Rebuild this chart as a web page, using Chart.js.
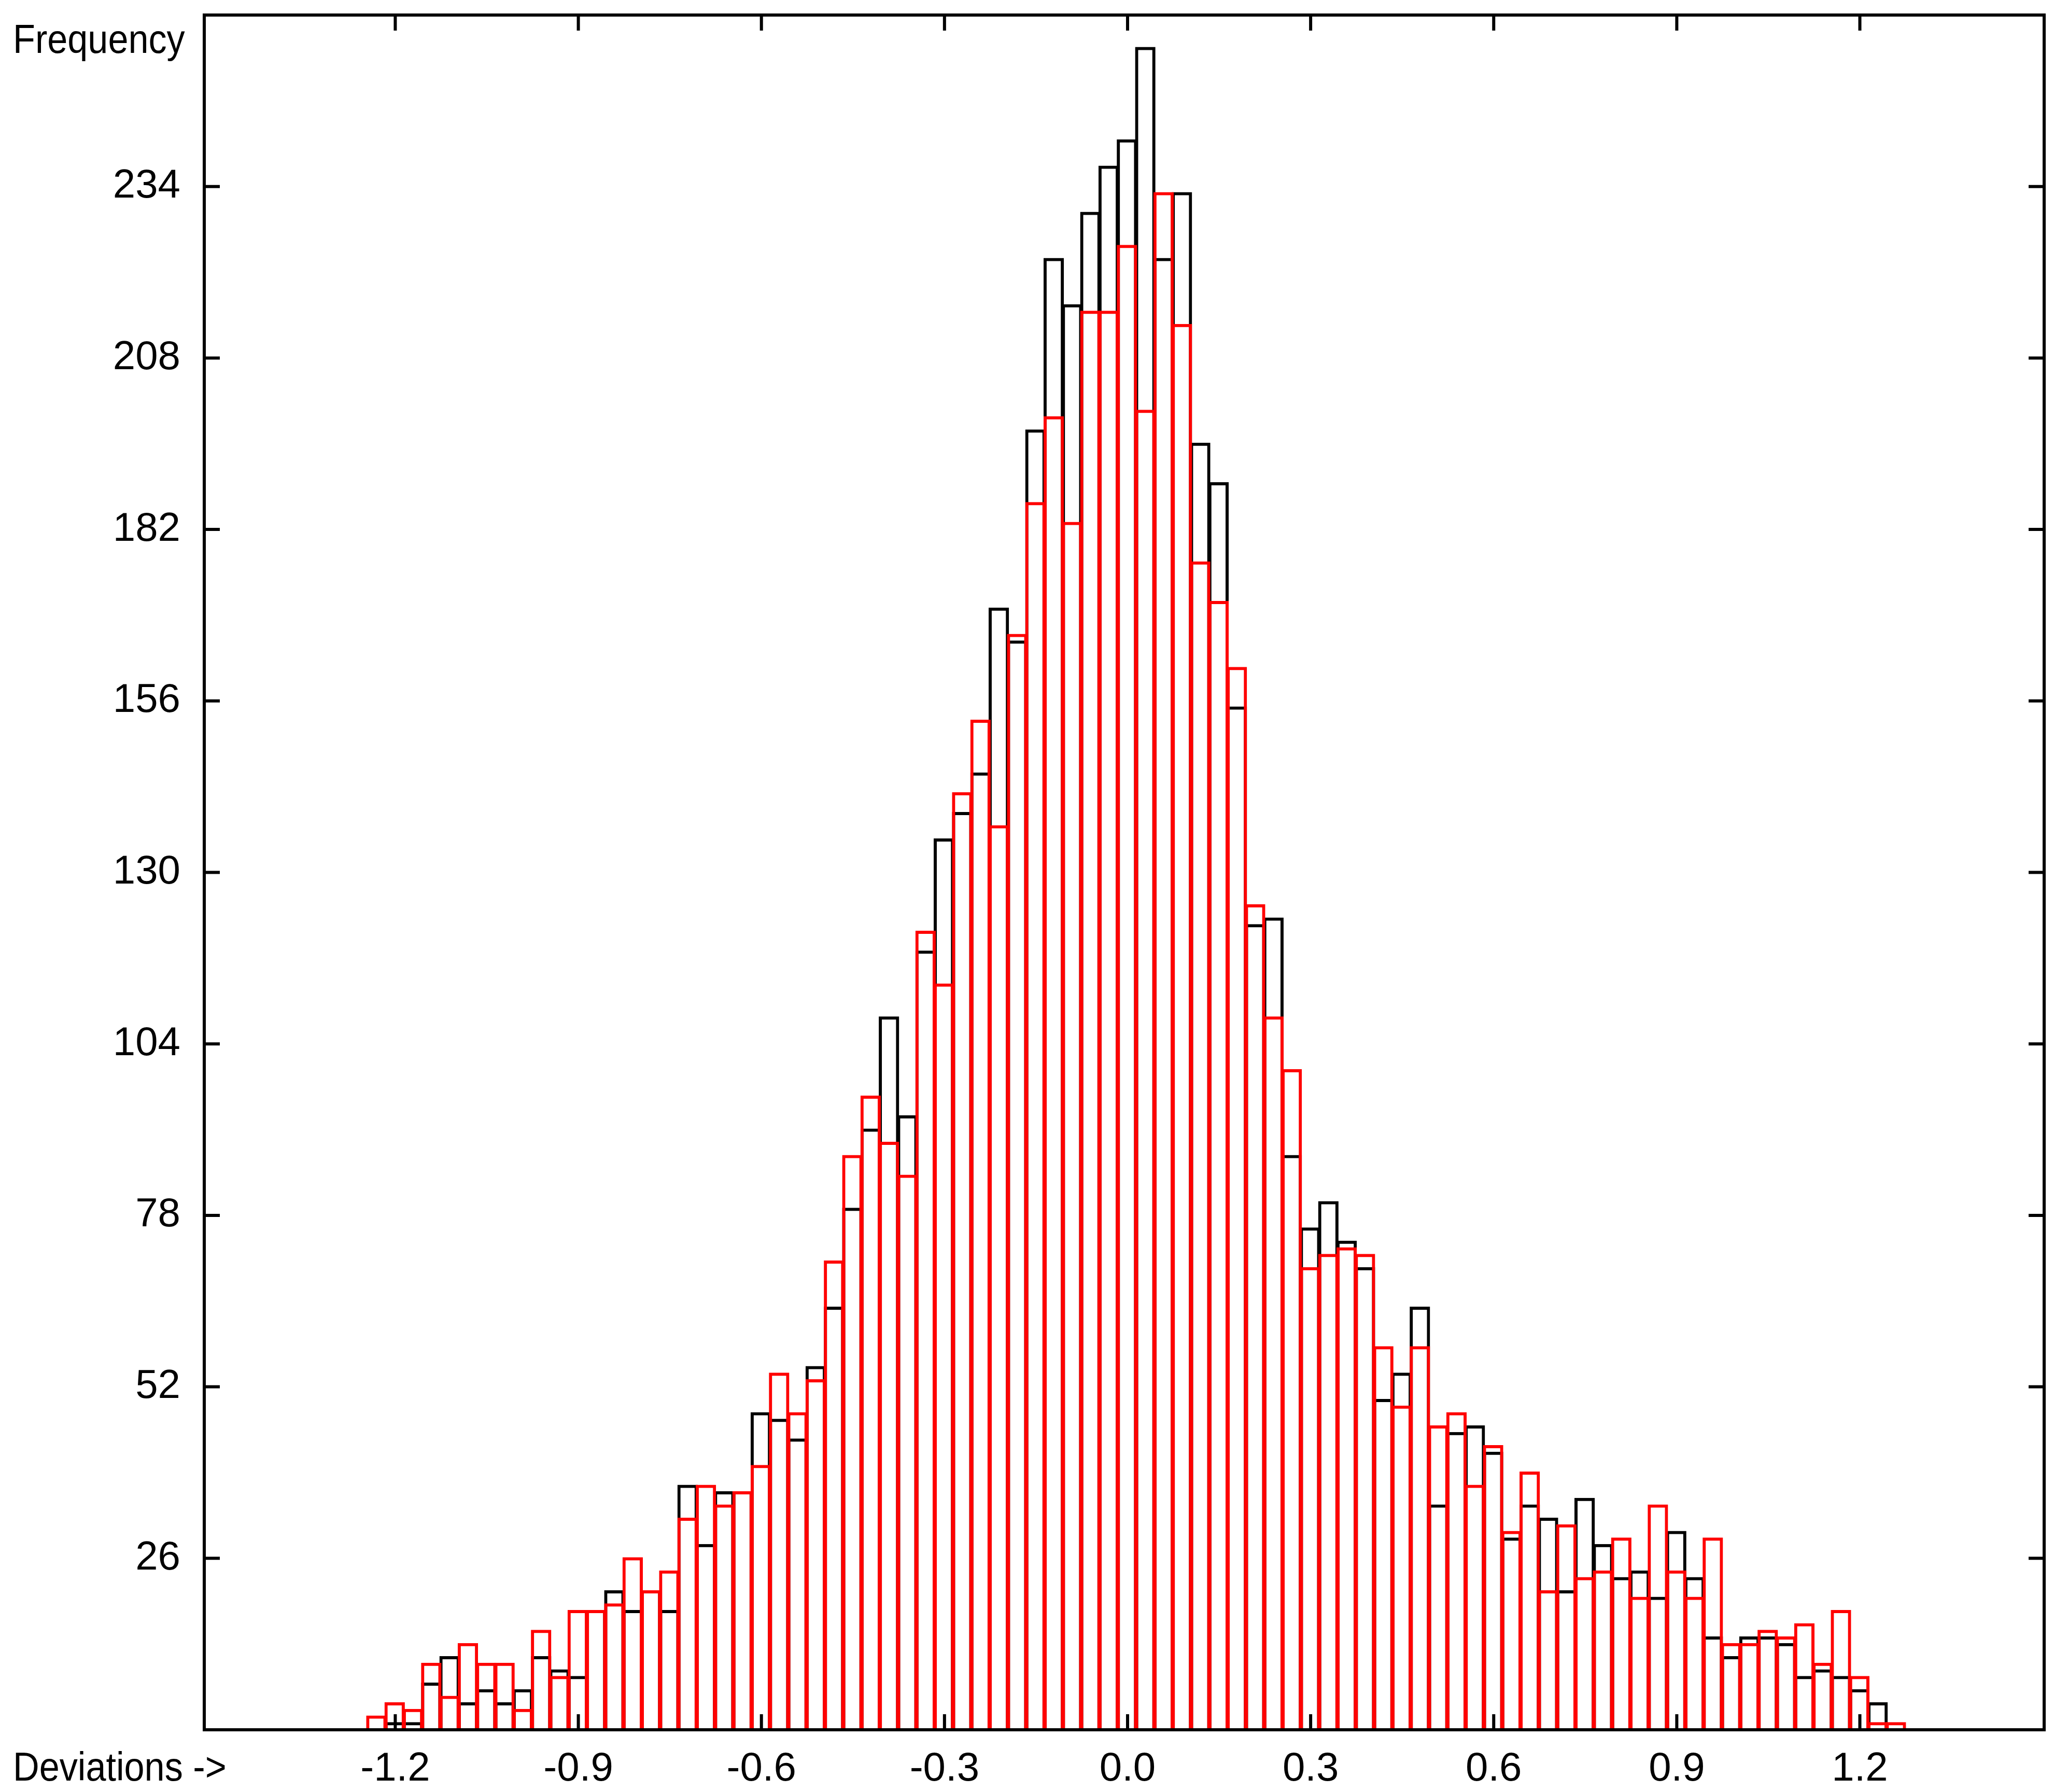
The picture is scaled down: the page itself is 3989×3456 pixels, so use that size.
<!DOCTYPE html>
<html>
<head>
<meta charset="utf-8">
<title>Deviations histogram</title>
<script src="https://cdn.jsdelivr.net/npm/chart.js@4.4.1/dist/chart.umd.min.js"></script>
<style>
  html, body { margin: 0; padding: 0; background: #fff; }
  #wrap { position: relative; width: 3989px; height: 3456px; }
  .lab { position: absolute; font-family: 'Liberation Sans', Arial, sans-serif; font-size: 78px; line-height: 78px; color: #000; white-space: nowrap; transform: scaleX(0.9); transform-origin: 0 0; }
</style>
</head>
<body>
<div id="wrap">
  <canvas id="hist" width="3989" height="3456"></canvas>
  <div class="lab" style="left:25px; top:36px;">Frequency</div>
  <div class="lab" style="left:25px; top:3368px;">Deviations -&gt;</div>
</div>
<script>
// bin centres (bins are 0.03 wide)
const binCenters = [
  -1.231, -1.201, -1.171, -1.141, -1.111, -1.081, -1.051, -1.021, -0.991, -0.961,
  -0.931, -0.901, -0.871, -0.841, -0.811, -0.781, -0.751, -0.721, -0.691, -0.661,
  -0.631, -0.601, -0.571, -0.541, -0.511, -0.481, -0.451, -0.421, -0.391, -0.361,
  -0.331, -0.301, -0.271, -0.241, -0.211, -0.181, -0.151, -0.121, -0.091, -0.061,
  -0.031, -0.001, 0.029, 0.059, 0.089, 0.119, 0.149, 0.179, 0.209, 0.239,
  0.269, 0.299, 0.329, 0.359, 0.389, 0.419, 0.449, 0.479, 0.509, 0.539,
  0.569, 0.599, 0.629, 0.659, 0.689, 0.719, 0.749, 0.779, 0.809, 0.839,
  0.869, 0.899, 0.929, 0.959, 0.989, 1.019, 1.049, 1.079, 1.109, 1.139,
  1.169, 1.199, 1.229, 1.259
];

// black outline histogram
const blackCounts = [
  0, 1, 1, 7, 11, 4, 6, 4, 6, 11,
  9, 8, 18, 21, 18, 21, 18, 37, 28, 36,
  36, 48, 47, 44, 55, 64, 79, 91, 108, 93,
  118, 135, 139, 145, 170, 165, 197, 223, 216, 230,
  237, 241, 255, 223, 233, 195, 189, 155, 122, 123,
  87, 76, 80, 74, 70, 50, 54, 64, 34, 45,
  46, 42, 29, 34, 32, 21, 35, 28, 23, 24,
  20, 30, 23, 14, 11, 14, 14, 13, 8, 9,
  8, 6, 4, 0
];

// red outline histogram
const redCounts = [
  2, 4, 3, 10, 5, 13, 10, 10, 3, 15,
  8, 18, 18, 19, 26, 21, 24, 32, 37, 34,
  36, 40, 54, 48, 53, 71, 87, 96, 89, 84,
  121, 113, 142, 153, 137, 166, 186, 199, 183, 215,
  215, 225, 200, 233, 213, 177, 171, 161, 125, 108,
  100, 70, 72, 73, 72, 58, 49, 58, 46, 48,
  37, 43, 30, 39, 21, 31, 23, 24, 29, 20,
  34, 24, 20, 29, 13, 13, 15, 14, 16, 10,
  18, 8, 1, 1
];

const xTicks = [-1.2, -0.9, -0.6, -0.3, 0.0, 0.3, 0.6, 0.9, 1.2];
const yTicks = [26, 52, 78, 104, 130, 156, 182, 208, 234];

const labelFont = { family: "'Liberation Sans', Arial, sans-serif", size: 78 };

// frame + inward tick marks, drawn over the bars
const frameTicks = {
  id: 'frameTicks',
  afterDatasetsDraw(chart) {
    const { ctx, chartArea: a, scales } = chart;
    const len = 30;
    ctx.save();
    ctx.strokeStyle = '#000';
    ctx.lineWidth = 6;
    ctx.strokeRect(a.left, a.top, a.right - a.left, a.bottom - a.top);
    ctx.beginPath();
    scales.x.ticks.forEach(t => {
      const px = scales.x.getPixelForValue(t.value);
      ctx.moveTo(px, a.bottom); ctx.lineTo(px, a.bottom - len);
      ctx.moveTo(px, a.top); ctx.lineTo(px, a.top + len);
    });
    scales.y.ticks.forEach(t => {
      const py = scales.y.getPixelForValue(t.value);
      ctx.moveTo(a.left, py); ctx.lineTo(a.left + len, py);
      ctx.moveTo(a.right, py); ctx.lineTo(a.right - len, py);
    });
    ctx.stroke();
    ctx.restore();
  }
};

function series(values, colour, order) {
  return {
    data: binCenters.map((x, i) => ({ x: x, y: values[i] })),
    borderColor: colour,
    backgroundColor: 'rgba(0,0,0,0)',
    borderWidth: 2,
    inflateAmount: 2,
    borderSkipped: 'start',
    barPercentage: 1,
    categoryPercentage: 1,
    grouped: false,
    order: order
  };
}

// keep the plot box where it is: labels must not push it around
function noPad(s) {
  s.paddingTop = 0; s.paddingBottom = 0;
  s.paddingLeft = 0; s.paddingRight = 0;
}

new Chart(document.getElementById('hist'), {
  type: 'bar',
  data: {
    datasets: [
      series(redCounts, '#ff0000', 0),
      series(blackCounts, '#000000', 1)
    ]
  },
  options: {
    responsive: false,
    animation: false,
    devicePixelRatio: 1,
    layout: { padding: { left: 0, top: 29, right: 46, bottom: 0 } },
    plugins: { legend: { display: false }, tooltip: { enabled: false } },
    scales: {
      x: {
        type: 'linear',
        offset: false,
        min: -1.513,
        max: 1.502,
        grid: { display: false, offset: false },
        border: { display: false },
        afterBuildTicks: s => { s.ticks = xTicks.map(v => ({ value: v })); },
        afterFit: s => { s.height = 120; noPad(s); },
        ticks: {
          color: '#000', font: labelFont, padding: 22,
          maxRotation: 0, autoSkip: false,
          callback: v => Number(v).toFixed(1)
        }
      },
      y: {
        min: 0,
        max: 260,
        grid: { display: false },
        border: { display: false },
        afterBuildTicks: s => { s.ticks = yTicks.map(v => ({ value: v })); },
        afterFit: s => { s.width = 394; noPad(s); },
        ticks: { color: '#000', font: labelFont, padding: 38, autoSkip: false }
      }
    }
  },
  plugins: [frameTicks]
});
</script>
</body>
</html>
